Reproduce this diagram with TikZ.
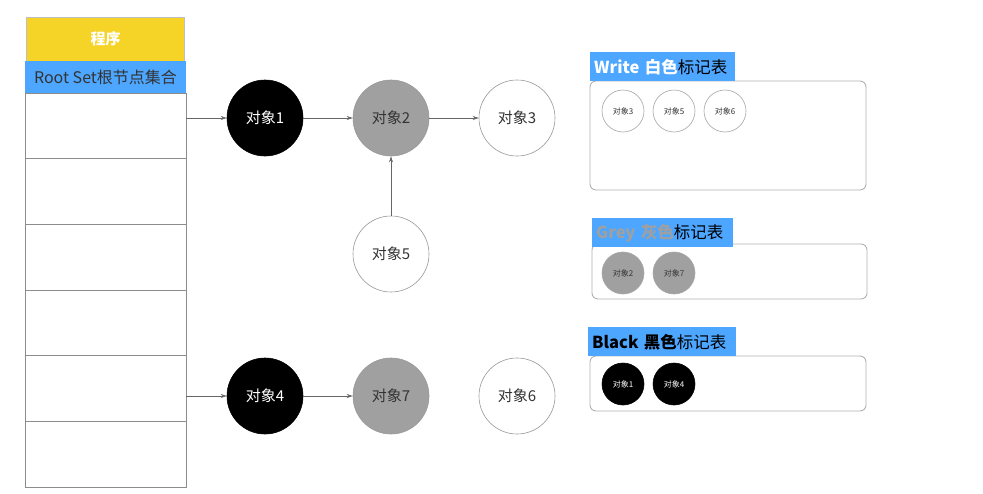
\documentclass[tikz,border=0pt]{standalone}
\usepackage{fontspec}
\setmainfont{Noto Sans CJK SC}
\usetikzlibrary{arrows.meta}
\definecolor{hdrblue}{HTML}{4DA6FF}
\definecolor{ygold}{HTML}{F5D327}
\definecolor{obgray}{HTML}{A0A0A0}
\tikzset{
 obj/.style={circle,minimum size=76pt,inner sep=0pt,draw=black!40,line width=0.6pt,font=\fontsize{15}{15}\selectfont},
 sobj/.style={circle,minimum size=42pt,inner sep=0pt,draw=black!35,line width=0.6pt,font=\fontsize{8}{8}\selectfont},
 blk/.style={fill=black,draw=black,text=white},
 gry/.style={fill=obgray,text=black!80},
 wht/.style={fill=white,text=black!80},
 arr/.style={draw=black!60,line width=0.6pt,-{Stealth[length=6pt,width=4pt]}},
 panel/.style={draw=black!30,line width=0.9pt,rounded corners=6pt},
 hdr/.style={fill=hdrblue,anchor=north west,inner xsep=4pt,inner ysep=0pt,align=left,font=\fontsize{16.5}{16.5}\selectfont}
}
\begin{document}
\begin{tikzpicture}[x=1pt,y=-1pt]
\useasboundingbox[fill=white] (0,0) rectangle (983,493);
% table
\node[fill=ygold,draw=black!25,minimum width=158pt,minimum height=44pt,inner sep=0pt,text=white,font=\bfseries\fontsize{15}{15}\selectfont] (prog) at (105.5,39) {程序};
\node[fill=hdrblue,minimum width=161pt,minimum height=32pt,inner sep=0pt,font=\fontsize{16}{16}\selectfont,text=black!80] (root) at (105.5,77) {Root Set根节点集合};
\foreach \a/\b [count=\i] in {93/158,158/224,224/290,290/355,355/421,421/487}{
 \draw[draw=black!45,line width=0.6pt] (25,\a) rectangle (186,\b);
}
\coordinate (r1) at (186,118);
\coordinate (r5) at (186,396);
% objects
\node[obj,blk] (o1) at (265,118) {对象1};
\node[obj,gry] (o2) at (391,118) {对象2};
\node[obj,wht] (o3) at (517,118) {对象3};
\node[obj,wht] (o5) at (391,254) {对象5};
\node[obj,blk] (o4) at (265,396) {对象4};
\node[obj,gry] (o7) at (391,396) {对象7};
\node[obj,wht] (o6) at (517,396) {对象6};
\draw[arr] (r1) -- (o1);
\draw[arr] (o1) -- (o2);
\draw[arr] (o2) -- (o3);
\draw[arr] (o5) -- (o2);
\draw[arr] (r5) -- (o4);
\draw[arr] (o4) -- (o7);
% panels
\draw[panel] (590,81) rectangle (866,190);
\node[hdr,text width=137pt,minimum height=29pt] (hw) at (590,52) {\textcolor{white}{\bfseries Write 白色}标记表};
\node[sobj,wht] (w3) at (623,111) {对象3};
\node[sobj,wht] (w5) at (674,111) {对象5};
\node[sobj,wht] (w6) at (725,111) {对象6};
\draw[panel] (592,244) rectangle (867,299);
\node[hdr,text width=133pt,minimum height=29pt] (hg) at (592,218) {\textcolor{obgray}{\bfseries Grey 灰色}标记表};
\node[sobj,gry] (g2) at (623,273) {对象2};
\node[sobj,gry] (g7) at (674,273) {对象7};
\draw[panel] (590,356) rectangle (866,411);
\node[hdr,text width=140pt,minimum height=29pt] (hb) at (588,327) {\textcolor{black}{\bfseries Black 黑色}标记表};
\node[sobj,blk] (b1) at (623,384) {对象1};
\node[sobj,blk] (b4) at (674,384) {对象4};
\end{tikzpicture}
\end{document}
